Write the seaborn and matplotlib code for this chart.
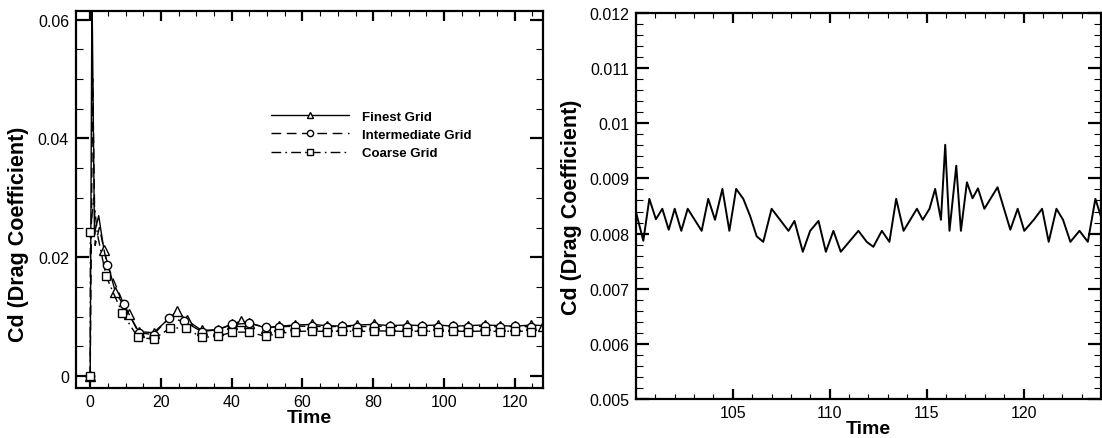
import numpy as np
import pandas as pd
import matplotlib
matplotlib.use("Agg")
import matplotlib.pyplot as plt
from matplotlib.ticker import MultipleLocator, FixedLocator, FuncFormatter
import seaborn as sns

# ---- grid-convergence history (full run) ----
fine_t = [0, 0.5, 1.2, 2.4, 3.9, 7.1, 10.9, 13.7, 17.9, 24.5, 27.3, 31.5, 36.0,
          40.2, 42.5, 44.9, 49.6, 53.3, 58.0, 62.7, 66.9, 71.2, 75.4, 80.1, 84.8,
          89.5, 93.7, 98.4, 102.6, 106.8, 111.5, 115.8, 120.0, 124.7, 128.0]
fine_cd = [0, 0.066, 0.024, 0.027, 0.0212, 0.0142, 0.0105, 0.0075, 0.0073, 0.0109,
           0.0094, 0.0077, 0.0078, 0.0088, 0.0092, 0.0090, 0.0081, 0.0084, 0.0086,
           0.0087, 0.0085, 0.0084, 0.0086, 0.0087, 0.0085, 0.0086, 0.0085, 0.0086,
           0.0084, 0.0085, 0.0086, 0.0085, 0.0084, 0.0086, 0.0085]
fine_mark = [0] + list(range(4, len(fine_t)))

mid_t = [0, 0.7, 1.4, 2.6, 4.8, 9.5, 13.7, 17.9, 22.3, 26.5, 31.5, 36.0, 40.2,
         44.9, 49.6, 53.3, 58.0, 62.7, 66.9, 71.2, 75.4, 80.1, 84.8, 89.5, 93.7,
         98.4, 102.6, 106.8, 111.5, 115.8, 120.0, 124.7]
mid_cd = [0, 0.050, 0.022, 0.025, 0.0187, 0.0121, 0.0073, 0.0070, 0.0098, 0.0092,
          0.0075, 0.0078, 0.0087, 0.0089, 0.0082, 0.0083, 0.0084, 0.0084, 0.0083,
          0.0084, 0.0083, 0.0084, 0.0084, 0.0083, 0.0084, 0.0083, 0.0084, 0.0083,
          0.0084, 0.0083, 0.0084, 0.0083]
mid_mark = [0] + list(range(4, len(mid_t)))

coarse_t = [0, 0.05, 1.0, 2.0, 4.5, 9.0, 13.4, 17.9, 22.6, 27.0, 31.5, 36.0, 40.2,
            44.9, 49.6, 53.3, 58.0, 62.7, 66.9, 71.2, 75.4, 80.1, 84.8, 89.5, 93.7,
            98.4, 102.6, 106.8, 111.5, 115.8, 120.0, 124.7]
coarse_cd = [0, 0.0243, 0.030, 0.024, 0.0168, 0.0107, 0.0066, 0.0062, 0.0081, 0.0081,
             0.0065, 0.0067, 0.0074, 0.0074, 0.0067, 0.0072, 0.0075, 0.0076, 0.0075,
             0.0076, 0.0075, 0.0076, 0.0076, 0.0075, 0.0076, 0.0075, 0.0076, 0.0075,
             0.0076, 0.0075, 0.0076, 0.0075]
coarse_mark = [0, 1] + list(range(4, len(coarse_t)))

# ---- finest grid, late-time window ----
late_t = [100.0, 100.38, 100.69, 101.03, 101.36, 101.69, 102.0, 102.34, 102.67,
          103.39, 103.73, 104.08, 104.46, 104.82, 105.17, 105.54, 105.89, 106.23,
          106.57, 107.0, 107.87, 108.18, 108.61, 108.99, 109.42, 109.80, 110.19,
          110.57, 111.48, 111.91, 112.25, 112.69, 113.08, 113.43, 113.81, 114.5,
          114.8, 115.15, 115.44, 115.74, 115.96, 116.18, 116.53, 116.77, 117.08,
          117.37, 117.65, 117.98, 118.66, 119.32, 119.70, 120.04, 120.53, 120.96,
          121.3, 121.7, 122.04, 122.42, 122.89, 123.32, 123.71, 124.05]
late_cd = [0.00839, 0.00787, 0.00863, 0.00826, 0.00845, 0.00807, 0.00845, 0.00805,
           0.00845, 0.00805, 0.00863, 0.00825, 0.00881, 0.00805, 0.00881, 0.00863,
           0.00832, 0.00795, 0.00785, 0.00845, 0.00805, 0.00823, 0.00767, 0.00805,
           0.00823, 0.00767, 0.00805, 0.00767, 0.00805, 0.00785, 0.00776, 0.00805,
           0.00785, 0.00863, 0.00805, 0.00845, 0.00825, 0.00845, 0.00881, 0.00825,
           0.00961, 0.00805, 0.00923, 0.00805, 0.00893, 0.00864, 0.00882, 0.00845,
           0.00884, 0.00807, 0.00845, 0.00805, 0.00825, 0.00845, 0.00785, 0.00845,
           0.00825, 0.00785, 0.00805, 0.00785, 0.00863, 0.00825]

series_names = ["Finest Grid", "Intermediate Grid", "Coarse Grid"]

sns.set_style("ticks")
plt.rcParams["font.family"] = ["Liberation Sans", "DejaVu Sans"]
plt.rcParams["text.color"] = "black"
plt.rcParams["axes.labelcolor"] = "black"
plt.rcParams["xtick.color"] = "black"
plt.rcParams["ytick.color"] = "black"

fig = plt.figure(figsize=(11.02, 4.39), dpi=100)
ax1 = fig.add_axes([0.069, 0.1139, 0.4238, 0.8595])
ax2 = fig.add_axes([0.5771, 0.0888, 0.4220, 0.8793])

mk = dict(markerfacecolor="white", markeredgecolor="black", markeredgewidth=1.0)

sns.lineplot(x=fine_t, y=fine_cd, ax=ax1, sort=False, estimator=None, color="black",
             linewidth=1.0, linestyle="-", marker="^", markersize=6.5,
             markevery=fine_mark, label=series_names[0], **mk)
sns.lineplot(x=mid_t, y=mid_cd, ax=ax1, sort=False, estimator=None, color="black",
             linewidth=1.0, linestyle=(0, (7, 4)), marker="o", markersize=6,
             markevery=mid_mark, label=series_names[1], **mk)
sns.lineplot(x=coarse_t, y=coarse_cd, ax=ax1, sort=False, estimator=None, color="black",
             linewidth=1.0, linestyle=(0, (7, 3, 1.2, 3)), marker="s", markersize=5.5,
             markevery=coarse_mark, label=series_names[2], **mk)

sns.lineplot(x=late_t, y=late_cd, ax=ax2, sort=False, estimator=None, color="black",
             linewidth=1.4)

fmt = FuncFormatter(lambda v, p: "%g" % round(v, 6))

ax1.set_xlim(-4, 128)
ax1.set_ylim(-0.002, 0.0615)
ax1.xaxis.set_major_locator(MultipleLocator(20))
ax1.xaxis.set_minor_locator(MultipleLocator(5))
ax1.yaxis.set_major_locator(MultipleLocator(0.02))
ax1.yaxis.set_minor_locator(MultipleLocator(0.005))
ax1.yaxis.set_major_formatter(fmt)

ax2.set_xlim(100, 124)
ax2.set_ylim(0.005, 0.012)
ax2.xaxis.set_major_locator(FixedLocator([105, 110, 115, 120]))
ax2.xaxis.set_minor_locator(MultipleLocator(1))
ax2.yaxis.set_major_locator(MultipleLocator(0.001))
ax2.yaxis.set_minor_locator(MultipleLocator(0.0002))
ax2.yaxis.set_major_formatter(fmt)

for ax in (ax1, ax2):
    for s in ax.spines.values():
        s.set_visible(True)
        s.set_linewidth(1.6)
        s.set_color("black")
    ax.tick_params(axis="both", which="both", direction="in", top=True, right=True,
                   colors="black", labelsize=11.5)
    ax.tick_params(axis="y", which="major", length=9.5, width=1.6, pad=5)
    ax.tick_params(axis="y", which="minor", length=5, width=0.8)
    ax.tick_params(axis="x", which="major", length=7.5, width=1.6, pad=4)
    ax.tick_params(axis="x", which="minor", length=3.8, width=0.8)
    ax.set_xlabel("Time", fontsize=14, fontweight="bold", labelpad=0, color="black")
    ax.set_ylabel("Cd (Drag Coefficient)", fontsize=15.5, fontweight="bold",
                  labelpad=5, color="black")
    ax.grid(False)

# the left panel's axis title sits a little below the middle of the frame
ax1.yaxis.set_label_coords(-0.10, 0.41)

leg = ax1.legend(loc="upper left", bbox_to_anchor=(0.417, 0.735), frameon=False,
                 prop={"weight": "bold", "size": 9.5}, handlelength=5.9,
                 handletextpad=1.0, labelspacing=0.45, borderaxespad=0, borderpad=0,
                 markerscale=0.75)
for txt in leg.get_texts():
    txt.set_color("black")

fig.savefig("out.png", dpi=100)
